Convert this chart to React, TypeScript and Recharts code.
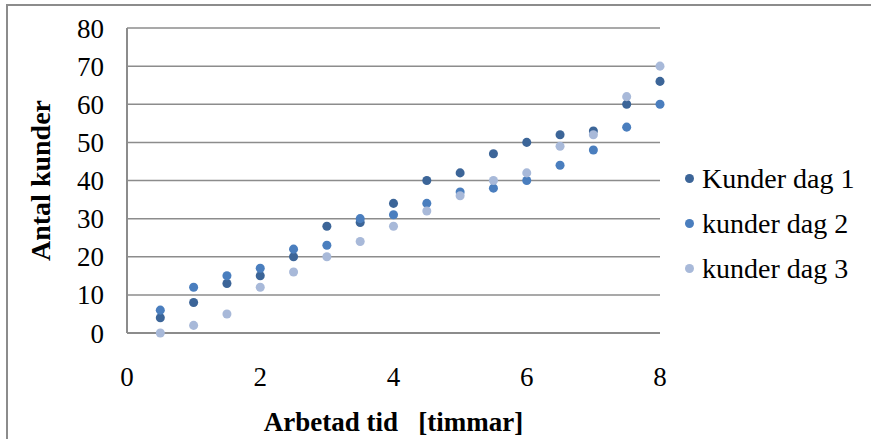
import React from 'react';
import { ScatterChart, Scatter, XAxis, YAxis, ZAxis, CartesianGrid, Legend } from 'recharts';

const hours = [0.5, 1, 1.5, 2, 2.5, 3, 3.5, 4, 4.5, 5, 5.5, 6, 6.5, 7, 7.5, 8];
const day1 = [4, 8, 13, 15, 20, 28, 29, 34, 40, 42, 47, 50, 52, 53, 60, 66];
const day2 = [6, 12, 15, 17, 22, 23, 30, 31, 34, 37, 38, 40, 44, 48, 54, 60];
const day3 = [0, 2, 5, 12, 16, 20, 24, 28, 32, 36, 40, 42, 49, 52, 62, 70];
const xTicks = [0, 2, 4, 6, 8];
const yTicks = [0, 10, 20, 30, 40, 50, 60, 70, 80];
const seriesNames = ['Kunder dag 1', 'kunder dag 2', 'kunder dag 3'];
const colors = ['#3C6598', '#4A7EBE', '#A8B9D9'];

const toPoints = (vals: number[]) => hours.map((h, i) => ({ x: h, y: vals[i] }));
const series = [day1, day2, day3].map((v, i) => ({ name: seriesNames[i], data: toPoints(v), color: colors[i] }));

const FONT = '"Liberation Serif", "Times New Roman", serif';
const GRID = '#8c8c8c';

const LegendContent = () => (
  <div style={{ fontFamily: FONT, fontSize: 28, color: '#000' }}>
    {series.map((s) => (
      <div key={s.name} style={{ display: 'flex', alignItems: 'center', height: 45 }}>
        <span style={{ display: 'inline-block', width: 9, height: 9, borderRadius: '50%', background: s.color, marginRight: 8 }} />
        <span style={{ whiteSpace: 'nowrap' }}>{s.name}</span>
      </div>
    ))}
  </div>
);

export default function App() {
  return (
    <div style={{ position: 'absolute', left: 0, top: 0, width: 871, height: 439, overflow: 'hidden', background: '#fff' }}>
      <div style={{ position: 'absolute', left: 6, top: 4, width: 900, height: 500, borderTop: `2px solid ${GRID}`, borderLeft: `2px solid ${GRID}` }} />
      <div style={{ position: 'absolute', left: 0, top: 0 }}>
        <ScatterChart width={871} height={439} margin={{ top: 28, right: 211, bottom: 46, left: 0 }}>
          <CartesianGrid vertical={false} stroke={GRID} strokeWidth={1.5} />
          <XAxis
            type="number"
            dataKey="x"
            domain={[0, 8]}
            ticks={xTicks}
            height={60}
            tickLine={false}
            tickSize={0}
            tickMargin={34}
            axisLine={{ stroke: GRID, strokeWidth: 2 }}
            tick={{ fill: '#000', fontSize: 27, fontFamily: FONT }}
            label={{
              content: ({ viewBox }: any) => (
                <text
                  x={viewBox.x + viewBox.width / 2}
                  y={viewBox.y + 89}
                  textAnchor="middle"
                  dominantBaseline="central"
                  style={{ fontFamily: FONT, fontSize: 27, fontWeight: 'bold', whiteSpace: 'pre' }}
                  fill="#000"
                >
                  {'Arbetad tid   [timmar]'}
                </text>
              ),
            }}
          />
          <YAxis
            type="number"
            dataKey="y"
            domain={[0, 80]}
            ticks={yTicks}
            width={127}
            tickLine={false}
            tickSize={0}
            tickMargin={23}
            axisLine={{ stroke: GRID, strokeWidth: 2 }}
            tick={{ fill: '#000', fontSize: 27, fontFamily: FONT }}
            label={{
              content: ({ viewBox }: any) => {
                const cx = viewBox.x + 40;
                const cy = viewBox.y + viewBox.height / 2;
                return (
                  <text
                    x={cx}
                    y={cy}
                    textAnchor="middle"
                    dominantBaseline="central"
                    transform={`rotate(-90, ${cx}, ${cy})`}
                    style={{ fontFamily: FONT, fontSize: 28, fontWeight: 'bold' }}
                    fill="#000"
                  >
                    Antal kunder
                  </text>
                );
              },
            }}
          />
          <ZAxis range={[100, 100]} />
          {series.map((s) => (
            <Scatter key={s.name} name={s.name} data={s.data} fill={s.color} isAnimationActive={false} />
          ))}
          <Legend
            layout="horizontal"
            align="center"
            verticalAlign="middle"
            content={<LegendContent />}
            wrapperStyle={{ position: 'absolute', left: 685, top: 156, width: 190 }}
          />
        </ScatterChart>
      </div>
    </div>
  );
}
